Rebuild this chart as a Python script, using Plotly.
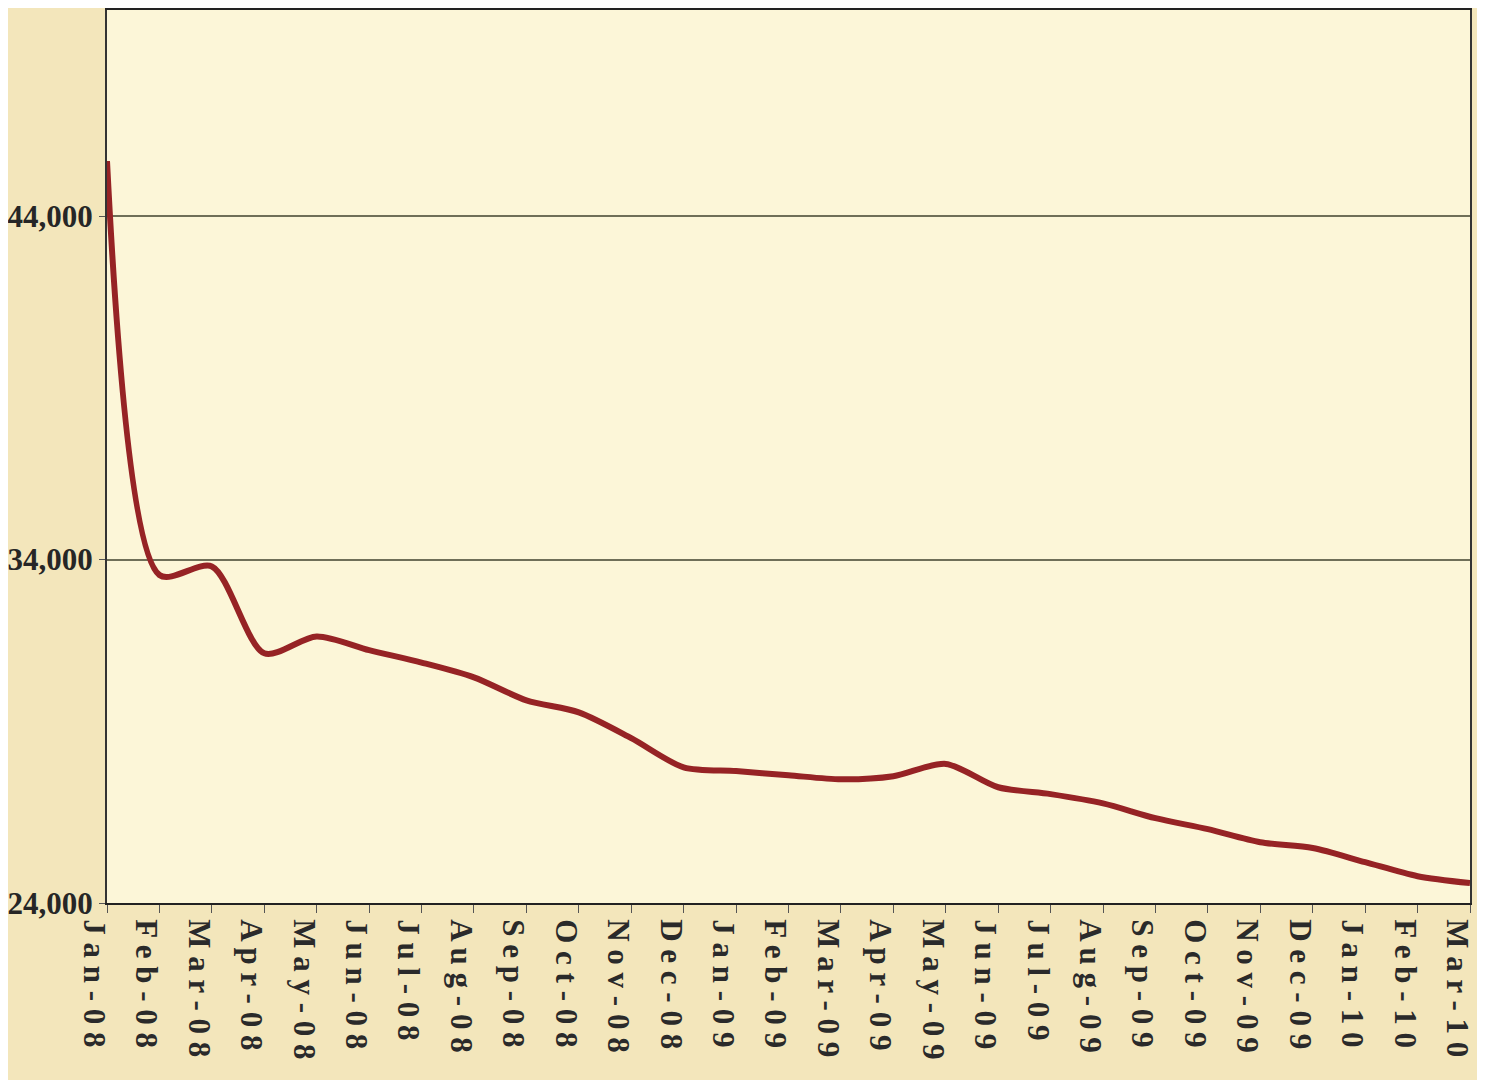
import plotly.graph_objects as go

months = ["Jan-08", "Feb-08", "Mar-08", "Apr-08", "May-08", "Jun-08", "Jul-08", "Aug-08",
          "Sep-08", "Oct-08", "Nov-08", "Dec-08", "Jan-09", "Feb-09", "Mar-09", "Apr-09",
          "May-09", "Jun-09", "Jul-09", "Aug-09", "Sep-09", "Oct-09", "Nov-09", "Dec-09",
          "Jan-10", "Feb-10", "Mar-10"]
values = [45600, 33550, 33800, 31270, 31760, 31360, 31000, 30570, 29900, 29550, 28800,
          27950, 27840, 27720, 27600, 27690, 28050, 27370, 27170, 26900, 26470, 26150,
          25770, 25600, 25190, 24780, 24580]
y_ticks = [24000, 34000, 44000]
y_tick_labels = ["24,000", "34,000", "44,000"]

x_idx = list(range(len(months)))
tick_text = [" ".join(m) for m in months]

fig = go.Figure()
fig.add_trace(go.Scatter(
    x=x_idx, y=values, mode="lines",
    line=dict(color="#962325", width=6, shape="spline", smoothing=0.8),
    hoverinfo="skip", showlegend=False,
))

font_family = "Liberation Serif, Times New Roman, serif"

fig.update_layout(
    width=1469, height=1072,
    margin=dict(l=99, r=7, t=2, b=177),
    paper_bgcolor="#f3e6bb",
    plot_bgcolor="#fcf6d8",
    showlegend=False,
    font=dict(family=font_family, color="#262626"),
)
fig.update_xaxes(
    range=[0, len(months) - 1],
    tickmode="array", tickvals=x_idx, ticktext=tick_text,
    tickangle=90,
    tickfont=dict(family=font_family, size=31, color="#2a2a2a", weight="bold"),
    ticklabeloverflow="allow",
    ticklabelshift=-13,
    automargin=False,
    ticks="outside", ticklen=8, tickcolor="#555555", tickwidth=1,
    showgrid=False,
    showline=True, linecolor="#222222", linewidth=2, mirror=True,
    zeroline=False,
)
fig.update_yaxes(
    range=[24000, 50000],
    tickmode="array", tickvals=y_ticks, ticktext=y_tick_labels,
    tickfont=dict(family=font_family, size=31, color="#262626", weight="bold"),
    automargin=False,
    ticks="outside", ticklen=6, tickcolor="#555555",
    showgrid=True, gridcolor="#6f6f58", gridwidth=1.5,
    showline=True, linecolor="#333333", linewidth=2, mirror=True,
    zeroline=False,
)

fig.write_html("out.html")
